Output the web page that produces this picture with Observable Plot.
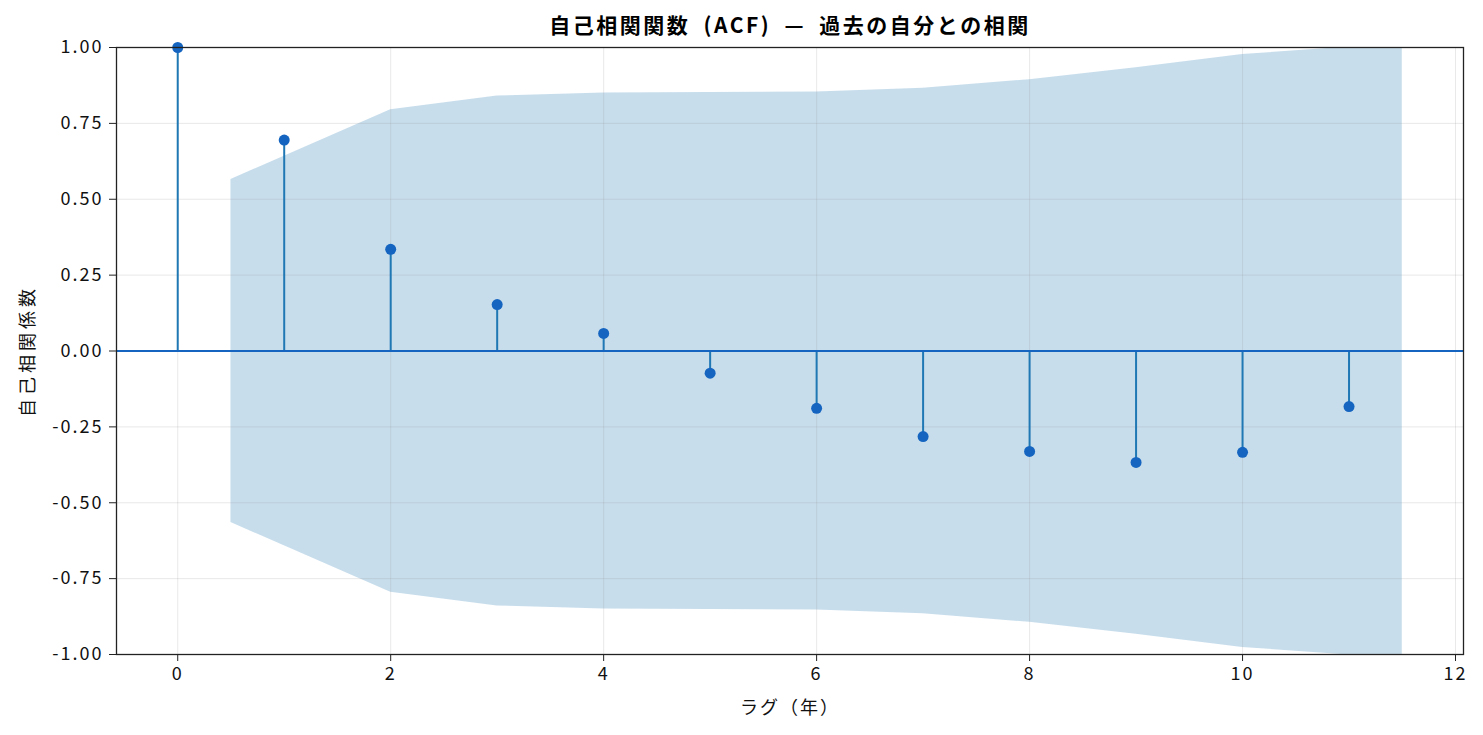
<!DOCTYPE html>
<html><head><meta charset="utf-8">
<script src="https://cdn.jsdelivr.net/npm/d3@7"></script>
<script src="https://cdn.jsdelivr.net/npm/@observablehq/plot@0.6"></script>
<style>
html,body{margin:0;padding:0;background:#fff;}
svg{font-family:"Noto Sans CJK JP","Noto Sans",sans-serif;}
</style></head>
<body><div id="chart"></div>
<script>
const lags = [0,1,2,3,4,5,6,7,8,9,10,11];
const acf = [1.0,0.695,0.335,0.153,0.058,-0.073,-0.189,-0.282,-0.331,-0.367,-0.334,-0.183];
const bandX = [0.5,2,3,4,5,6,7,8,9,10,11.5];
const bandHalf = [0.565,0.795,0.840,0.850,0.852,0.853,0.866,0.894,0.933,0.977,1.014];
const xTicks = [0,2,4,6,8,10,12];
const yTicks = [-1,-0.75,-0.5,-0.25,0,0.25,0.5,0.75,1];
const title = "自己相関関数 (ACF) — 過去の自分との相関";
const xLabel = "ラグ（年）";
const yLabel = "自己相関係数";

const stems = lags.map((l,i)=>({lag:l, v:acf[i]}));
const band = bandX.map((x,i)=>({x, lo:-bandHalf[i], hi:bandHalf[i]}));
const yFmt = d => d3.format(".2f")(d).replace("\u2212","-");

const chart = Plot.plot({
  width:1483, height:735,
  marginLeft:116, marginRight:20, marginTop:47, marginBottom:81,
  style:{fontSize:"18px", fontFamily:'"Noto Sans CJK JP","Noto Sans",sans-serif', color:"#111"},
  x:{domain:[-0.575,12.075], label:null},
  y:{domain:[-1,1], label:null},
  marks:[
    Plot.areaY(band,{x:"x", y1:"lo", y2:"hi", fill:"#1f77b4", fillOpacity:0.25, clip:true, curve:"linear"}),
    Plot.gridX(xTicks,{stroke:"#999", strokeOpacity:0.22, strokeWidth:1}),
    Plot.gridY(yTicks,{stroke:"#999", strokeOpacity:0.22, strokeWidth:1}),
    Plot.ruleX(stems,{x:"lag", y1:0, y2:"v", stroke:"#1f77b4", strokeWidth:2}),
    Plot.ruleY([0],{stroke:"#1565C0", strokeWidth:2.2}),
    Plot.dot(stems,{x:"lag", y:"v", r:5.5, fill:"#1565C0", stroke:"none"}),
    Plot.axisX({ticks:xTicks, tickFormat:d=>String(d), tickSize:7, tickPadding:6, label:null, fontSize:18, stroke:"#222", fill:"#111"}),
    Plot.axisY({ticks:yTicks, tickFormat:yFmt, tickSize:7, tickPadding:6, label:null, fontSize:18, stroke:"#222", fill:"#111"}),
    Plot.frame({stroke:"#222", strokeWidth:1.3}),
    Plot.text([title],{frameAnchor:"top", lineAnchor:"middle", textAnchor:"middle", dy:-21, fontSize:21, fontWeight:"bold", fill:"#000"}),
    Plot.text([xLabel],{frameAnchor:"bottom", lineAnchor:"middle", textAnchor:"middle", dy:54, fontSize:18, fill:"#111"}),
    Plot.text([yLabel],{frameAnchor:"left", lineAnchor:"middle", textAnchor:"middle", dx:-88, rotate:-90, fontSize:18, fill:"#111"})
  ]
});
const s = d3.select(chart);
const byText = t => s.selectAll("text").filter(function(){ return this.textContent === t; });
byText(title).attr("letter-spacing","2.5px").attr("word-spacing","6px");
byText(xLabel).attr("letter-spacing","2px");
byText(yLabel).attr("letter-spacing","4px");
s.selectAll('g[aria-label="x-axis tick label"] text, g[aria-label="y-axis tick label"] text').attr("letter-spacing","2px");
document.getElementById("chart").appendChild(chart);
</script></body></html>
